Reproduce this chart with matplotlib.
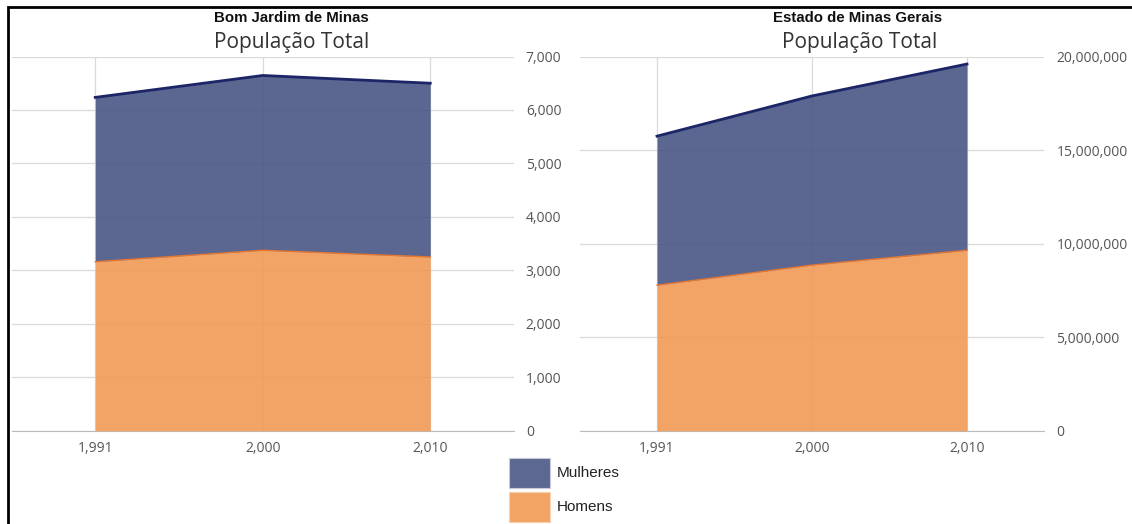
import matplotlib
matplotlib.use("Agg")
import matplotlib.pyplot as plt
from matplotlib.patches import Rectangle
from matplotlib.ticker import FuncFormatter

years = ["1,991", "2,000", "2,010"]

# Bom Jardim de Minas
bjm_homens = [3160, 3375, 3250]
bjm_mulheres = [3075, 3270, 3250]

# Estado de Minas Gerais
mg_homens = [7776000, 8851587, 9641877]
mg_mulheres = [7967000, 9039907, 9955453]

titles = ["Bom Jardim de Minas", "Estado de Minas Gerais"]
subtitle = "População Total"
legend_labels = ["Mulheres", "Homens"]

W, H = 1132, 524
fig = plt.figure(figsize=(W / 100, H / 100), dpi=100)

C_MUL_FILL = "#4a5685"
C_MUL_LINE = "#1c2566"
C_HOM_FILL = "#f19a55"
C_HOM_LINE = "#e8772e"
GRID = "#d9d9d9"
TICK = "#555555"


def px_axes(x0, x1, ytop, ybot):
    return [x0 / W, 1 - ybot / H, (x1 - x0) / W, (ybot - ytop) / H]


def draw(ax, homens, mulheres, ymax, ystep):
    x = list(range(len(years)))
    total = [h + m for h, m in zip(homens, mulheres)]
    ax.set_xlim(-0.5, len(years) - 0.5)
    ax.set_ylim(0, ymax)
    ax.fill_between(x, 0, homens, color=C_HOM_FILL, alpha=0.9, lw=0, zorder=2)
    ax.fill_between(x, homens, total, color=C_MUL_FILL, alpha=0.9, lw=0, zorder=2)
    ax.plot(x, homens, color=C_HOM_LINE, lw=1.0, zorder=3)
    ax.plot(x, total, color=C_MUL_LINE, lw=2.0, zorder=3)
    ax.set_yticks(range(0, ymax + 1, ystep))
    ax.set_xticks(x)
    ax.set_xticklabels(years)
    ax.yaxis.set_major_formatter(FuncFormatter(lambda v, p: f"{int(v):,}"))
    ax.yaxis.tick_right()
    ax.grid(True, color=GRID, lw=0.9, zorder=1)
    ax.set_axisbelow(True)
    for s in ["top", "left", "right"]:
        ax.spines[s].set_visible(False)
    ax.spines["bottom"].set_color("#bbbbbb")
    ax.spines["bottom"].set_zorder(0)
    ax.tick_params(axis="both", length=0, colors=TICK, labelsize=10)
    ax.tick_params(axis="y", pad=8.5)
    ax.tick_params(axis="x", pad=7.5)
    for lab in ax.get_xticklabels() + ax.get_yticklabels():
        lab.set_fontfamily("Open Sans")


ax1 = fig.add_axes(px_axes(11.5, 514, 56.5, 430.7))
draw(ax1, bjm_homens, bjm_mulheres, 7000, 1000)
ax2 = fig.add_axes(px_axes(579.5, 1044.5, 56.5, 430.7))
draw(ax2, mg_homens, mg_mulheres, 20000000, 5000000)

# titles
for cx, t in [(291, titles[0]), (858, titles[1])]:
    fig.text(cx / W, 1 - 18 / H, t, ha="center", va="center", fontsize=10.8,
             fontweight="bold", family="Liberation Sans", color="#111111")
for cx in [292, 860]:
    fig.text(cx / W, 1 - 43 / H, subtitle, ha="center", va="center",
             fontsize=15, family="Open Sans", color="#333333")

# legend
for i, (lab, col) in enumerate(zip(legend_labels, ["#5c6891", "#f2a465"])):
    y0 = 458 + i * 34
    fig.patches.append(Rectangle((509 / W, 1 - (y0 + 30) / H), 41 / W, 30 / H,
                                 transform=fig.transFigure, facecolor=col,
                                 edgecolor="#c8c8d8" if i == 0 else "#f8d0b0",
                                 lw=0.8))
    fig.text(557 / W, 1 - (y0 + 15) / H, lab, ha="left", va="center",
             fontsize=11, family="Liberation Sans", color="#222222")

# border
fig.patches.append(Rectangle((8 / W, -0.05), 1.2, 1 - 7 / H + 0.05,
                             transform=fig.transFigure, fill=False,
                             edgecolor="black", lw=2))

fig.savefig("out.png", dpi=100)
